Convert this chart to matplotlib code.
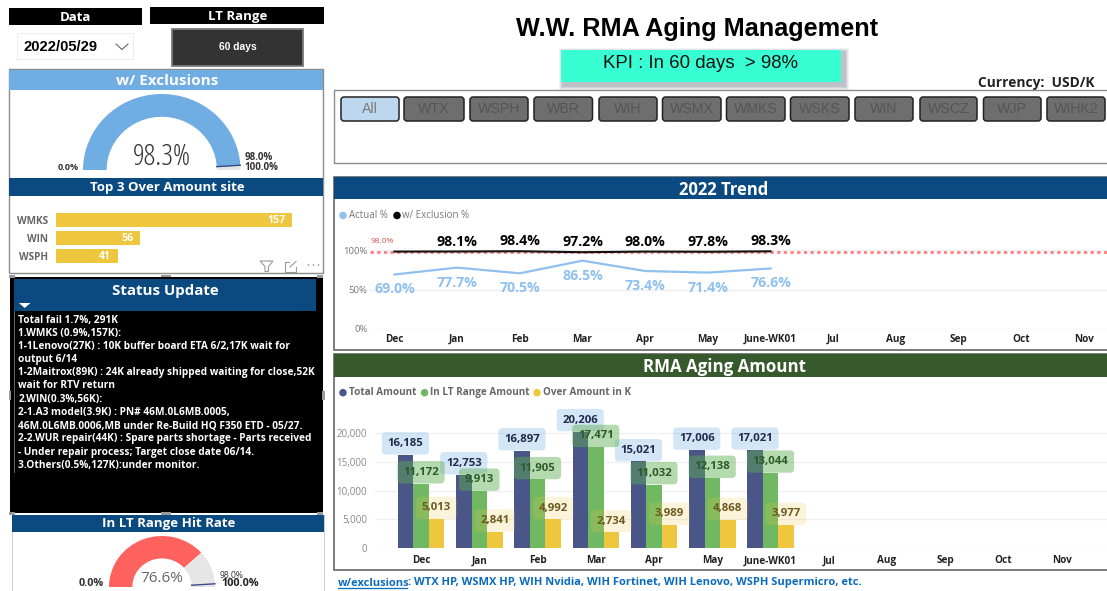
import matplotlib
matplotlib.use("Agg")
import logging
logging.getLogger("matplotlib.font_manager").setLevel(logging.ERROR)
import matplotlib.pyplot as plt
from matplotlib.patches import Rectangle, FancyBboxPatch, Polygon, Circle, Ellipse
import numpy as np

# ---------- data ----------
months = ["Dec", "Jan", "Feb", "Mar", "Apr", "May", "June-WK01", "Jul", "Aug", "Sep", "Oct", "Nov"]
actual_pct = [69.0, 77.7, 70.5, 86.5, 73.4, 71.4, 76.6]
excl_pct = [98.0, 98.1, 98.4, 97.2, 98.0, 97.8, 98.3]
excl_label_from = 1
target_pct = 98.0
total_amount = [16185, 12753, 16897, 20206, 15021, 17006, 17021]
inrange_amount = [11172, 9913, 11905, 17471, 11032, 12138, 13044]
over_amount = [5013, 2841, 4992, 2734, 3989, 4868, 3977]
top_sites = ["WMKS", "WIN", "WSPH"]
top_values = [157, 56, 41]
gauge_excl = 98.3
gauge_hit = 76.6
gauge_max = 100.0
site_buttons = ["All", "WTX", "WSPH", "WBR", "WIH", "WSMX", "WMKS", "WSKS", "WIN", "WSCZ", "WJP", "WIHK2"]
status_lines = [
    "Total fail 1.7%, 291K",
    "1.WMKS (0.9%,157K):",
    "1-1Lenovo(27K) : 10K buffer board ETA 6/2,17K wait for",
    "output 6/14",
    "1-2Maitrox(89K) : 24K already shipped waiting for close,52K",
    "wait for RTV return",
    "2.WIN(0.3%,56K):",
    "2-1.A3 model(3.9K) : PN# 46M.0L6MB.0005,",
    "46M.0L6MB.0006,MB under Re-Build HQ F350 ETD - 05/27.",
    "2-2.WUR repair(44K) : Spare parts shortage - Parts received",
    "- Under repair process; Target close date 06/14.",
    "3.Others(0.5%,127K):under monitor.",
]

# ---------- style ----------
W, H = 1107, 591
NAVY = "#0B4A80"
GREEN_H = "#375A2C"
BLUE = "#6FADE3"
LBLUE = "#8FC0EE"
DKBLUE = "#4A5688"
GREEN = "#70B962"
YEL = "#EEC73F"
NARROW = ["Liberation Sans Narrow", "Open Sans"]
OS = ["Open Sans", "DejaVu Sans"]
AR = ["Liberation Sans", "DejaVu Sans"]

fig = plt.figure(figsize=(W / 100, H / 100), dpi=100, facecolor="white")


def px_axes(l, t, r, b, z=1):
    ax = fig.add_axes([l / W, 1 - b / H, (r - l) / W, (b - t) / H], zorder=z)
    ax.patch.set_alpha(0)
    return ax


bg = px_axes(0, 0, W, H, z=0)
bg.set_xlim(0, W)
bg.set_ylim(H, 0)
bg.axis("off")
top = px_axes(0, 0, W, H, z=5)
top.set_xlim(0, W)
top.set_ylim(H, 0)
top.axis("off")


def rect(ax, l, t, r, b, fc="none", ec="none", lw=0.0, z=1, alpha=None):
    ax.add_patch(Rectangle((l, t), r - l, b - t, fc=fc, ec=ec, lw=lw, zorder=z, alpha=alpha))


# ---------- top-left selectors ----------
rect(bg, 8.7, 8, 141.7, 25, fc="black")
bg.text(75, 17.5, "Data", color="white", fontsize=9.5, fontweight="bold", family=OS, ha="center", va="center")
rect(bg, 150, 7, 324, 23.7, fc="black")
bg.text(238, 16.5, "LT Range", color="white", fontsize=9.5, fontweight="bold", family=OS, ha="center", va="center")
rect(bg, 17, 33, 132.7, 59, fc="white", ec="#EEEEEE", lw=0.8)
bg.text(23, 47, "2022/05/29", color="black", fontsize=10.6, fontweight="bold", family=AR, ha="left", va="center")
bg.plot([116, 122, 128], [44, 49.5, 44], color="#666666", lw=0.8)
rect(bg, 172, 29, 303, 66, fc="#333333", ec="#7A7A7A", lw=1.3)
bg.text(237.6, 47, "60 days", color="white", fontsize=7.4, fontweight="bold", family=AR, ha="center", va="center")

# ---------- exclusions gauge panel ----------
rect(bg, 9.3, 69, 323, 273, fc="white", ec="#8C8C8C", lw=1.0)
rect(bg, 9.3, 70, 323, 90, fc=BLUE)
bg.text(167, 81, "w/ Exclusions", color="white", fontsize=11, fontweight="bold", family=OS, ha="center", va="center")


def gauge(l, t, r, b, value, color, line_r0):
    ax = px_axes(l, t, r, b, z=2)
    ax.pie([value, gauge_max - value, gauge_max], radius=1.0, startangle=180, counterclock=False,
           colors=[color, "#E6E6E6", "none"], wedgeprops=dict(width=1 - line_r0, linewidth=0))
    ax.set_aspect("auto")
    ax.set_xlim(-1, 1)
    ax.set_ylim(0, 1)
    th = np.pi * (1 - target_pct / gauge_max)
    ax.plot([line_r0 * np.cos(th), np.cos(th)], [line_r0 * np.sin(th), np.sin(th)],
            color="#3B4A86", lw=1.0, clip_on=False, zorder=5)
    return ax


gauge(83, 94, 240.5, 170, gauge_excl, BLUE, 0.70)
bg.text(162, 157, f"{gauge_excl:.1f}%", color="#333333", fontsize=21, family=OS, ha="center", va="center", zorder=4, fontstretch="condensed")
bg.text(68, 167, "0.0%", color="#333333", fontsize=6.6, fontweight="bold", family=OS, ha="center", va="center", zorder=4)
bg.text(259, 158, "98.0%", color="#333333", fontsize=7, fontweight="bold", family=OS, ha="center", va="center", zorder=4)
bg.text(261, 167, "100.0%", color="#333333", fontsize=7, fontweight="bold", family=OS, ha="center", va="center", zorder=4)

# ---------- top sites ----------
rect(bg, 9.3, 177.5, 323, 195.7, fc=NAVY)
bg.text(167, 188, "Top 3 Over Amount site", color="white", fontsize=9.5, fontweight="bold", family=OS, ha="center", va="center", zorder=4)
axs = px_axes(56, 204, 300, 272, z=2)
ypos = np.arange(len(top_sites))
axs.barh(ypos, top_values, height=0.78, color=YEL)
axs.set_ylim(2.87, -0.89)
axs.set_xlim(0, 244 / 236 * top_values[0])
axs.set_yticks(ypos, top_sites)
axs.set_xticks([])
axs.tick_params(left=False, length=0, pad=6, labelsize=7.2, labelcolor="#666666")
for lab in axs.get_yticklabels():
    lab.set_fontweight("bold")
    lab.set_family(OS)
for s in axs.spines.values():
    s.set_visible(False)
for y, v in zip(ypos, top_values):
    axs.annotate(str(v), (v, y), xytext=(-5, 0), textcoords="offset points", ha="right", va="center",
                 color="white", fontsize=7.6, fontweight="bold", family=OS)
# icons
top.add_patch(Polygon([[260, 261], [273, 261], [268.5, 266.5], [268.5, 271.5], [265, 271.5], [265, 266.5]],
                      fc="none", ec="#9A9A9A", lw=0.8))
top.plot([289, 284.5, 284.5, 296, 296], [261.5, 261.5, 271.5, 271.5, 267], color="#9A9A9A", lw=0.8)
top.plot([290, 296], [267, 261.5], color="#9A9A9A", lw=0.8)
for xx in (308.5, 313.5, 318.5):
    top.add_patch(Circle((xx, 265), 0.8, fc="#8A8A8A", ec="none"))

# ---------- status update ----------
rect(bg, 9.5, 276.5, 323.3, 513, fc="black", z=3)
rect(bg, 14, 279, 316, 311, fc=NAVY, z=3)
bg.text(165, 291, "Status Update", color="white", fontsize=10.8, fontweight="bold", family=OS, ha="center", va="center", zorder=4)
bg.add_patch(Polygon([[19, 303], [30.5, 303], [24.7, 308]], fc="white", ec="none", zorder=4))
bg.plot([13.5, 13.5], [311, 472], color="#777777", lw=0.6, zorder=4)
for i, line in enumerate(status_lines):
    bg.text(18.3, 320 + i * 13.2, line, color="white", fontsize=7.3, fontweight="bold", family=OS,
            ha="left", va="center", zorder=4)
for (hx, hy, hw, hh) in [(161, 274.5, 10, 2.5), (161, 512, 10, 2.5), (8.5, 391, 2.5, 9), (322, 391, 2.5, 9),
                         (9, 512, 6, 2.5), (317, 512, 6, 2.5), (9, 275, 6, 2.5), (317, 275, 6, 2.5)]:
    rect(bg, hx, hy, hx + hw, hy + hh, fc="#9A9A9A", z=5)

# ---------- hit-rate gauge ----------
rect(bg, 11.7, 515, 324, 591, fc="white", ec="#BBBBBB", lw=0.5, z=3)
rect(bg, 11.7, 515, 324, 531.7, fc=NAVY, z=3)
bg.text(169, 524, "In LT Range Hit Rate", color="white", fontsize=9.5, fontweight="bold", family=OS, ha="center", va="center", zorder=4)
gauge(109, 536, 215, 587, gauge_hit, "#FD625E", 0.56)
top.text(162, 578, f"{gauge_hit:.1f}%", color="#666666", fontsize=11, family=NARROW, ha="center", va="center")
top.text(91, 583, "0.0%", color="#333333", fontsize=7.8, fontweight="bold", family=OS, ha="center", va="center")
top.text(232, 575.5, "98.0%", color="#333333", fontsize=6.2, family=OS, ha="center", va="center")
top.text(240, 583.5, "100.0%", color="#222222", fontsize=7.8, fontweight="bold", family=OS, ha="center", va="center")

# ---------- title area ----------
bg.text(696.7, 29, "W.W. RMA Aging Management", color="black", fontsize=18.2, fontweight="bold", family=AR, ha="center", va="center")
for k, a in ((5, .06), (4, .08), (3, .10), (2, .12)):
    rect(bg, 561 + 3 - k, 50 + 3 - k, 841 + 3 + k, 82 + 3 + k, fc="#3A3F55", alpha=a)
rect(bg, 561, 50, 841, 82, fc="#38FFD3", z=2)
bg.text(700.6, 64, "KPI : In 60 days  > 98%", color="#111111", fontsize=13.4, family=AR, ha="center", va="center", zorder=3)
bg.text(1094, 83, "Currency:  USD/K", color="#222222", fontsize=9.9, fontweight="bold", family=OS, ha="right", va="center")

# ---------- slicer ----------
rect(bg, 333.5, 90, 1112, 162.7, fc="white", ec="#8C8C8C", lw=1.0)
btn_left = [341, 404, 470, 534, 599, 662.5, 726.5, 790.5, 855, 920, 983.5, 1047]
btn_right = [399, 464, 528, 592.5, 657, 721, 785, 849, 913, 977, 1041, 1105]
for i, name in enumerate(site_buttons):
    l, r = btn_left[i], btn_right[i]
    active = i == 0
    bg.add_patch(FancyBboxPatch((l + 2, 99), r - l - 4, 20, boxstyle="round,pad=2,rounding_size=3",
                                fc="#BDD7EE" if active else "#6E6E6E", ec="#222222", lw=1.1, zorder=2))
    bg.text((l + r) / 2, 109, name, color="#7A7A7A" if active else "#555555", fontsize=10.2,
            family=AR, ha="center", va="center", zorder=3)

# ---------- trend ----------
rect(bg, 333.5, 177, 1112, 350, fc="white", ec="#666666", lw=1.2)
rect(bg, 333.5, 177, 1112, 199, fc=NAVY)
bg.text(724, 190, "2022 Trend", color="white", fontsize=12, fontweight="bold", family=OS, ha="center", va="center")
bg.add_patch(Ellipse((343, 215.5), 7.5, 7.5, fc=LBLUE, ec="none", zorder=3))
bg.text(349, 215.5, "Actual %", color="#777777", fontsize=7, family=NARROW, fontweight="normal", ha="left", va="center", zorder=3)
bg.add_patch(Ellipse((397, 215.5), 7.5, 7.5, fc="black", ec="none", zorder=3))
bg.text(402.5, 215.5, "w/ Exclusion %", color="#777777", fontsize=7, family=NARROW, ha="left", va="center", zorder=3)

axt = px_axes(369.5, 225, W, 329, z=2)
step_t, x0_t = 62.7, 394.4
axt.set_xlim((369.5 - x0_t) / step_t, (W - x0_t) / step_t)
axt.set_ylim(0, 104 / 0.79)
axt.set_yticks([0, 50, 100], ["0%", "50%", "100%"])
axt.set_xticks(range(len(months)), months)
axt.tick_params(axis="both", length=0)
axt.tick_params(axis="y", labelsize=6.8, labelcolor="#777777", pad=1.5)
axt.tick_params(axis="x", labelsize=7.2, labelcolor="#222222", pad=3.5)
for lab in axt.get_xticklabels():
    lab.set_family(NARROW)
    lab.set_fontweight("bold")
for lab in axt.get_yticklabels():
    lab.set_family(NARROW)
axt.grid(axis="y", color="#EEEEEE", lw=1)
axt.set_axisbelow(True)
for s in axt.spines.values():
    s.set_visible(False)
xt = np.arange(len(actual_pct))
axt.axhline(target_pct, color="#FF8080", lw=2.0, ls=(0, (1.2, 1.2)))
axt.plot(xt, excl_pct, color="#111111", lw=1.5, zorder=4)
axt.plot(xt, actual_pct, color=LBLUE, lw=1.6, zorder=3)
for i, (a, e) in enumerate(zip(actual_pct, excl_pct)):
    axt.annotate(f"{a:.1f}%", (i, a), xytext=(0, -10.8), textcoords="offset points", ha="center", va="center",
                 color=LBLUE, fontsize=10.2, fontweight="bold", family=NARROW, zorder=5)
    if i >= excl_label_from:
        axt.annotate(f"{e:.1f}%", (i, e), xytext=(0, 7.2), textcoords="offset points", ha="center", va="center",
                     color="black", fontsize=10.2, fontweight="bold", family=NARROW, zorder=5)
axt.annotate(f"{target_pct:.1f}%", (0, target_pct), xytext=(-9, 7), textcoords="offset points", ha="center", va="center",
             color="#D9534F", fontsize=6, family=NARROW)

# ---------- amounts ----------
rect(bg, 333.5, 353.5, 1112, 570, fc="white", ec="#666666", lw=1.2)
rect(bg, 333.5, 354, 1112, 376.7, fc=GREEN_H)
bg.text(724, 367, "RMA Aging Amount", color="white", fontsize=12.2, fontweight="bold", family=OS, ha="center", va="center")
for cx, tx, col, name in [(343, 349, DKBLUE, "Total Amount"), (424.6, 430, GREEN, "In LT Range Amount"),
                          (537, 543, YEL, "Over Amount in K")]:
    bg.add_patch(Ellipse((cx, 392.7), 7.5, 7.5, fc=col, ec="none", zorder=3))
    bg.text(tx, 392.7, name, color="#666666", fontsize=7.1, fontweight="bold", family=NARROW, ha="left", va="center", zorder=3)

axb = px_axes(374.5, 400, W, 548.3, z=2)
step_b, x0_b = 58.25, 421
axb.set_xlim((374.5 - x0_b) / step_b, (W - x0_b) / step_b)
axb.set_ylim(0, 148.3 / 115.6 * 20000)
axb.set_yticks([0, 5000, 10000, 15000, 20000], ["0", "5,000", "10,000", "15,000", "20,000"])
axb.set_xticks(range(len(months)), months)
axb.tick_params(axis="both", length=0)
axb.tick_params(axis="y", labelsize=7, labelcolor="#888888", pad=5.5)
axb.tick_params(axis="x", labelsize=7.2, labelcolor="#222222", pad=5)
for lab in axb.get_xticklabels():
    lab.set_family(NARROW)
    lab.set_fontweight("bold")
for lab in axb.get_yticklabels():
    lab.set_family(NARROW)
axb.grid(axis="y", color="#F0F0F0", lw=1)
axb.set_axisbelow(True)
for s in axb.spines.values():
    s.set_visible(False)
bw = 15.5 / step_b
xb = np.arange(len(total_amount))
series = [(total_amount, DKBLUE, "#6FADE3", 0.30, "#1F2D4D", -bw),
          (inrange_amount, GREEN, "#5FAE50", 0.45, "#2C5A2A", 0.0),
          (over_amount, YEL, "#F0C84A", 0.20, "#6B5A20", bw)]
for vals, col, *_rest in series:
    off = _rest[-1]
    axb.bar(xb + off, vals, width=bw, color=col, zorder=2)
for vals, col, boxc, ba, tc, off in series:
    for x, v in zip(xb, vals):
        axb.annotate(f"{v:,}", (x + off, v), xytext=(0, 8.2), textcoords="offset points", ha="center", va="center",
                     color=tc, fontsize=8.2, fontweight="bold", family=NARROW, zorder=6, annotation_clip=False,
                     bbox=dict(boxstyle="round,pad=0.5,rounding_size=0.35", fc=matplotlib.colors.to_rgba(boxc, ba), ec="none"))

# ---------- footer ----------
FOOT = "#0B6CBC"
bg.text(337.5, 583, "w/exclusions", color=FOOT, fontsize=8, fontweight="bold", family=OS, ha="left", va="center")
bg.plot([337.5, 407], [588.2, 588.2], color=FOOT, lw=0.9)
bg.text(408.5, 583, ": WTX HP, WSMX HP, WIH Nvidia, WIH Fortinet, WIH Lenovo, WSPH Supermicro, etc.", color=FOOT,
        fontsize=8.06, fontweight="bold", family=OS, ha="left", va="center")

fig.savefig("out.png", dpi=100)
